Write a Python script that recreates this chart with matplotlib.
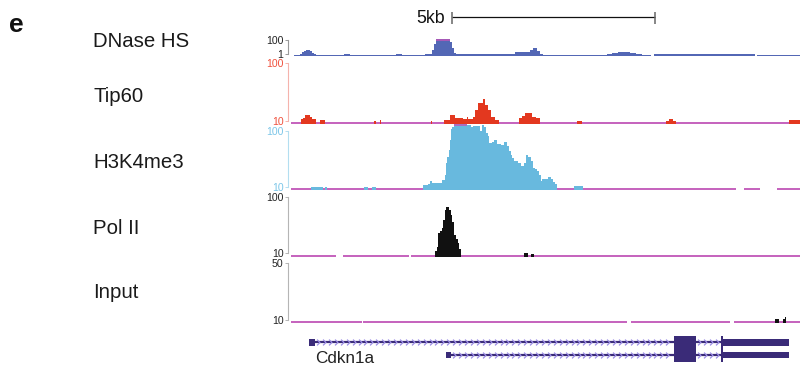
import numpy as np
import matplotlib
matplotlib.use("Agg")
import matplotlib.pyplot as plt
from matplotlib.path import Path
from matplotlib.patches import Rectangle
from matplotlib.ticker import NullLocator

plt.rcParams['font.family'] = ['Liberation Sans', 'DejaVu Sans']

# ---------------- data (genomic position in kb from left edge of view) ----------------
view_kb = (0.0, 12.56)
scale_start_kb = 3.98
scale_len_kb = 5.0
scale_label = "5kb"

track_names = ["DNase HS", "Tip60", "H3K4me3", "Pol II", "Input"]

# (start_kb, end_kb, signal)
dnase_seg = [
    (0.07, 0.22, 0.88), (0.22, 0.27, 1.10), (0.27, 0.32, 1.79), (0.32, 0.37, 2.89),
    (0.37, 0.47, 4.0), (0.47, 0.52, 2.89), (0.52, 0.57, 1.52), (0.57, 0.62, 0.94),
    (0.62, 1.30, 0.88), (1.30, 1.45, 1.10), (1.45, 2.60, 0.88), (2.60, 2.75, 1.10),
    (2.75, 3.30, 0.88), (3.30, 3.48, 1.10), (3.48, 3.53, 4.0), (3.53, 3.58, 27.6),
    (3.58, 3.92, 150.0), (3.92, 3.97, 52.5), (3.97, 4.02, 7.6), (4.02, 4.07, 1.52),
    (4.07, 4.50, 1.10), (4.50, 5.00, 1.0), (5.00, 5.33, 0.94), (5.33, 5.52, 1.29),
    (5.52, 5.77, 2.10), (5.77, 5.90, 2.46), (5.90, 5.97, 3.40), (5.97, 6.07, 6.9),
    (6.07, 6.14, 2.89), (6.14, 6.22, 1.29), (6.22, 7.79, 0.88), (7.79, 7.92, 1.10),
    (7.92, 8.07, 1.52), (8.07, 8.36, 2.10), (8.36, 8.51, 1.52), (8.51, 8.66, 1.10),
    (8.66, 8.88, 0.88), (8.95, 9.81, 1.10), (9.81, 10.09, 0.94), (10.09, 10.50, 1.05),
    (10.50, 11.45, 0.94), (11.50, 12.56, 0.88),
]
dnase_gaps = []

tip60_seg = [
    (0.25, 0.30, 10.6), (0.30, 0.35, 11.3), (0.35, 0.47, 12.5), (0.47, 0.52, 11.7),
    (0.52, 0.62, 10.6), (0.72, 0.84, 10.4),
    (2.05, 2.10, 10.0), (2.20, 2.22, 10.2), (3.45, 3.48, 10.0), (3.77, 3.92, 10.4),
    (3.92, 4.05, 12.5), (4.05, 4.24, 11.3), (4.24, 4.34, 10.8), (4.34, 4.37, 11.7),
    (4.37, 4.49, 10.6), (4.49, 4.54, 11.7), (4.54, 4.61, 15.3), (4.61, 4.74, 20.2),
    (4.74, 4.79, 23.8), (4.79, 4.86, 18.7), (4.86, 4.93, 15.3), (4.93, 5.03, 11.7),
    (5.03, 5.13, 10.2), (5.62, 5.70, 11.3), (5.70, 5.77, 12.2), (5.77, 5.94, 13.4),
    (5.94, 6.04, 11.7), (6.04, 6.14, 11.0),
    (7.05, 7.18, 10.0), (9.25, 9.32, 10.0), (9.32, 9.42, 10.8), (9.42, 9.49, 10.0),
    (12.28, 12.56, 10.4),
]
tip60_gaps = []

h3k4me3_seg = [
    (0.49, 0.79, 10.0), (0.84, 0.89, 9.8), (1.80, 1.90, 10.2), (2.00, 2.10, 9.8),
    (3.26, 3.38, 10.9), (3.38, 3.43, 11.3), (3.43, 3.48, 12.8), (3.48, 3.55, 11.8),
    (3.55, 3.63, 12.0), (3.63, 3.72, 11.6), (3.72, 3.80, 13.3), (3.80, 3.82, 16.3),
    (3.82, 3.85, 26.7), (3.85, 3.90, 34.1), (3.90, 3.92, 45.4), (3.92, 3.95, 68.4),
    (3.95, 3.97, 107.0), (3.97, 4.02, 116.0), (4.02, 4.34, 150.0), (4.34, 4.44, 126.0),
    (4.44, 4.49, 114.5), (4.49, 4.59, 119.6), (4.59, 4.66, 122.6), (4.66, 4.71, 97.6),
    (4.71, 4.76, 126.0), (4.76, 4.81, 116.0), (4.81, 4.86, 91.0), (4.86, 4.88, 79.4),
    (4.88, 4.96, 60.5), (4.96, 5.01, 62.3), (5.01, 5.08, 69.4), (5.08, 5.18, 58.8),
    (5.18, 5.25, 56.5), (5.25, 5.33, 63.8), (5.33, 5.38, 54.2), (5.38, 5.43, 44.1),
    (5.43, 5.45, 37.5), (5.45, 5.50, 32.7), (5.50, 5.60, 29.3), (5.60, 5.67, 26.7),
    (5.67, 5.75, 23.3), (5.75, 5.80, 26.7), (5.80, 5.85, 37.5), (5.85, 5.92, 34.1),
    (5.92, 5.97, 28.6), (5.97, 6.02, 21.8), (6.02, 6.07, 20.9), (6.07, 6.12, 19.0),
    (6.12, 6.17, 16.5), (6.17, 6.19, 12.6), (6.19, 6.34, 14.0), (6.34, 6.41, 14.9),
    (6.41, 6.46, 14.0), (6.46, 6.51, 12.3), (6.51, 6.56, 11.4), (6.98, 7.20, 10.5),
]
h3k4me3_gaps = [(10.98, 11.17), (11.57, 11.99)]

polii_seg = [
    (3.55, 3.60, 11.0), (3.60, 3.63, 13.1), (3.63, 3.68, 22.5), (3.68, 3.72, 24.8),
    (3.72, 3.75, 27.5), (3.75, 3.80, 38.8), (3.80, 3.82, 58.2), (3.82, 3.90, 64.7),
    (3.90, 3.95, 58.2), (3.95, 3.97, 47.5), (3.97, 4.02, 36.2), (4.02, 4.07, 21.1),
    (4.07, 4.12, 17.9), (4.12, 4.14, 15.4), (4.14, 4.19, 11.9), (5.75, 5.85, 10.1),
    (5.92, 5.99, 9.7),
]
polii_gaps = [(1.11, 1.28), (2.91, 2.96)]

input_seg = [(11.94, 12.04, 10.2), (12.14, 12.19, 10.2), (12.19, 12.21, 11.0)]
input_gaps = [(1.74, 1.78), (8.29, 8.39), (10.83, 10.93)]

tick_values = [(1, 100), (10, 100), (10, 100), (10, 100), (10, 50)]

# gene model
gene_name = "Cdkn1a"
tx_row = [0, 1]
tx_start = [0.44, 3.82]
tx_end = [12.28, 12.28]
exon_row = [0, 0, 0, 0, 1, 1, 1, 1]
exon_start = [0.44, 9.45, 10.61, 10.66, 3.82, 9.45, 10.61, 10.66]
exon_end = [0.59, 9.99, 10.66, 12.28, 3.95, 9.99, 10.66, 12.28]
exon_coding = [False, True, True, False, False, True, True, False]

# ---------------- layout / style ----------------
W, H = 800, 369
fig = plt.figure(figsize=(W / 100, H / 100), dpi=100)
X0, X1 = 291, 800
MAGENTA = "#c055b8"


def px_axes(x0, y0, x1, y1):
    return fig.add_axes([x0 / W, 1 - y1 / H, (x1 - x0) / W, (y1 - y0) / H])


# per track: (tick px lo, tick px hi, top px, baseline px, bottom px, label baseline px)
geom = [
    (54.3, 40.0, 39.3, 56.0, 56.0, 46.7),
    (120.7, 63.0, 57.0, 122.7, 123.7, 102.0),
    (187.0, 130.7, 124.3, 189.0, 190.0, 168.3),
    (253.3, 196.7, 190.5, 255.7, 256.7, 234.3),
    (320.0, 262.7, 257.0, 321.7, 322.7, 298.5),
]
fill_colors = ["#5367b5", "#e3381f", "#68b9de", "#111111", "#111111"]
label_colors = ["#222222", "#f0503c", "#7cc6e8", "#222222", "#222222"]
spine_colors = ["#9a9a9a", "#f5b3ac", "#b3def0", "#b5b5b5", "#b5b5b5"]
draw_baseline = [False, True, True, True, True]
segs = [dnase_seg, tip60_seg, h3k4me3_seg, polii_seg, input_seg]
gaps = [dnase_gaps, tip60_gaps, h3k4me3_gaps, polii_gaps, input_gaps]

for i in range(5):
    ylo_px, yhi_px, ytop, ybase, ybot, ylab = geom[i]
    vlo, vhi = tick_values[i]
    lpp = (np.log10(vhi) - np.log10(vlo)) / (ylo_px - yhi_px)
    vmin = 10 ** (np.log10(vlo) - (ybot - ylo_px) * lpp)
    vmax = 10 ** (np.log10(vhi) + (yhi_px - ytop) * lpp)
    vbase = 10 ** (np.log10(vlo) - (ybase - ylo_px) * lpp)

    ax = px_axes(X0, ytop, X1, ybot)
    ax.patch.set_visible(False)
    ax.set_yscale("log")
    ax.set_xlim(*view_kb)
    ax.set_ylim(vmin, vmax)

    if draw_baseline[i]:
        edges = [view_kb[0]]
        for g0, g1 in gaps[i]:
            edges += [g0, g1]
        edges.append(view_kb[1])
        ax.hlines([vbase] * (len(edges) // 2), edges[0::2], edges[1::2],
                  color=MAGENTA, lw=1.3, zorder=1)

    xs, ys = [], []
    for s, e, v in segs[i]:
        xs += [s, s, e, e]
        ys += [vmin, v, v, vmin]
    ax.fill(xs, ys, color=fill_colors[i], lw=0, zorder=2)

    vclip = 10 ** (np.log10(vmax) - 0.8 * lpp)
    for s, e, v in segs[i]:
        if v >= vmax:
            ax.hlines(vclip, s, e, color=MAGENTA, lw=1.1, zorder=3)

    for sp in ["top", "right", "bottom"]:
        ax.spines[sp].set_visible(False)
    ax.spines["left"].set_bounds(vlo, vhi)
    ax.spines["left"].set_position(("outward", 2.2))
    ax.spines["left"].set_color(spine_colors[i])
    ax.spines["left"].set_linewidth(0.8)
    ax.set_yticks([vlo, vhi])
    ax.set_yticklabels([str(vlo), str(vhi)])
    ax.yaxis.set_minor_locator(NullLocator())
    ax.tick_params(axis="y", length=2.2, width=0.7, color=spine_colors[i],
                   labelcolor=label_colors[i], labelsize=7.6, pad=1)
    ax.set_xticks([])

    fig.text(93 / W, 1 - ylab / H, track_names[i], fontsize=14.7,
             ha="left", va="baseline", color="#1a1a1a")

# panel letter
fig.text(9 / W, 1 - 32.3 / H, "e", fontsize=19, fontweight="bold",
         ha="left", va="baseline", color="#111111")

# scale bar
sax = px_axes(X0, 5, X1, 28)
sax.axis("off")
sax.set_xlim(*view_kb)
sax.set_ylim(28, 5)
sax.hlines(16.7, scale_start_kb, scale_start_kb + scale_len_kb, color="#111111", lw=0.9)
sax.vlines([scale_start_kb, scale_start_kb + scale_len_kb], 11.7, 24.0, color="#666666", lw=1.1)
sax.annotate(scale_label, xy=(scale_start_kb, 23.3), xytext=(-5.5, 0),
             textcoords="offset points", ha="right", va="baseline",
             fontsize=12.8, color="#111111", annotation_clip=False)

# gene track
GENE = "#3a2b78"
CHEV = "#9d8fe6"
gax = px_axes(X0, 333, X1, 366)
gax.axis("off")
gax.set_xlim(*view_kb)
gax.set_ylim(1.87, -0.73)
chev = Path([(-0.5, 1.0), (0.5, 0.0), (-0.5, -1.0)],
            [Path.MOVETO, Path.LINETO, Path.LINETO])
for r, s, e in zip(tx_row, tx_start, tx_end):
    gax.hlines(r, s, e, color=GENE, lw=1.6, zorder=2)
    ex = sorted([(a, b) for rr, a, b in zip(exon_row, exon_start, exon_end) if rr == r])
    for (a0, b0), (a1, b1) in zip(ex[:-1], ex[1:]):
        if a1 - b0 > 0.1:
            pos = np.arange(b0 + 0.08, a1 - 0.04, 0.146)
            gax.plot(pos, [r] * len(pos), ls="none", marker=chev, ms=4.2,
                     mfc="none", mec=CHEV, mew=0.9, zorder=3)
for r, s, e, c in zip(exon_row, exon_start, exon_end, exon_coding):
    h = 1.04 if c else 0.52
    gax.add_patch(Rectangle((s, r - h / 2), e - s, h, color=GENE, lw=0, zorder=4))
gax.text(0.59, 1.65, gene_name, fontsize=12.3, ha="left", va="baseline", color="#222222")

fig.savefig("out.png", dpi=100)
